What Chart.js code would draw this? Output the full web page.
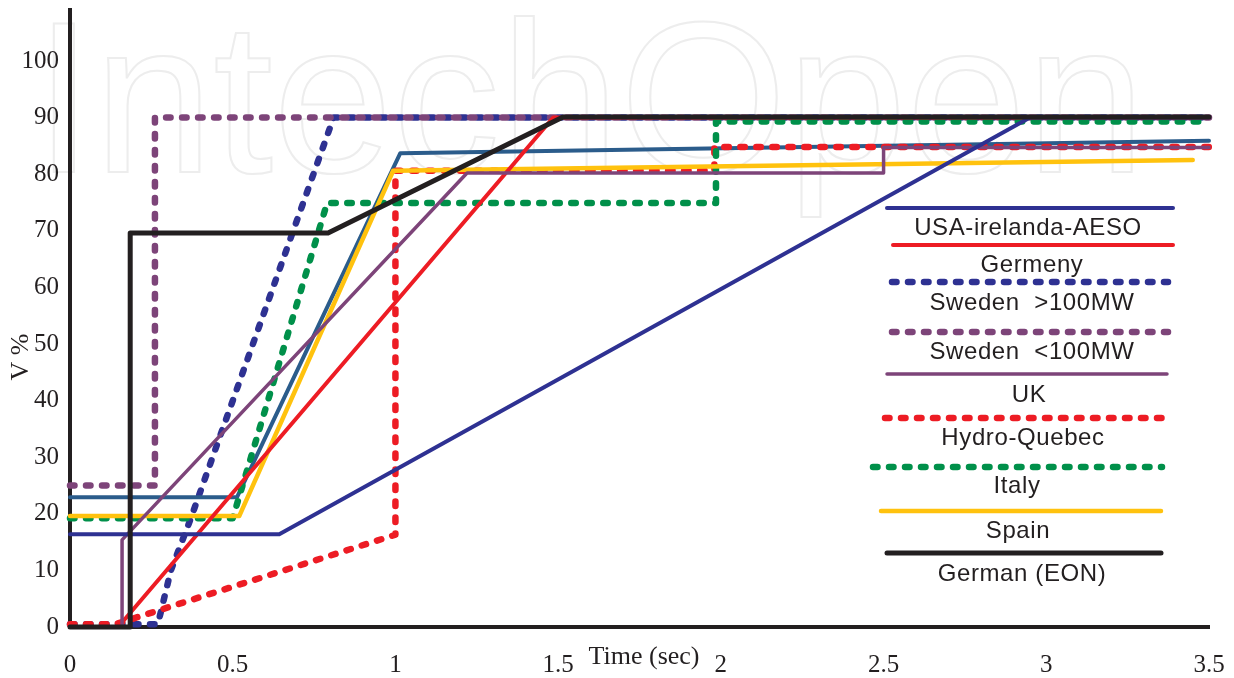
<!DOCTYPE html>
<html>
<head>
<meta charset="utf-8">
<title>V % - Time (sec)</title>
<script src="https://cdn.jsdelivr.net/npm/chart.js@4.4.1/dist/chart.umd.min.js"></script>
<style>
    body { margin: 0; background: #ffffff; }
    #box { width: 1234px; height: 678px; position: relative; }
</style>
</head>
<body>
<div id="box"><canvas id="myChart"></canvas></div>
<script>
"use strict";

// DATI
const xTicks = [0, 0.5, 1, 1.5, 2, 2.5, 3, 3.5];
const yTicks = [0, 10, 20, 30, 40, 50, 60, 70, 80, 90, 100];

const usaT = [0, 0.643, 2.95, 3.5];
const usaV = [16.4, 16.4, 90, 90];

const germenyT = [0, 0.148, 1.485, 3.5];
const germenyV = [0, 0, 90, 90];

const swedenHiT = [0, 0.27, 0.31, 0.37, 0.81, 3.5];
const swedenHiV = [0.5, 0.5, 10, 19, 90, 90];

const swedenLoT = [0, 0.261, 0.261, 3.5];
const swedenLoV = [25, 25, 90, 90];

const ukT = [0, 0.16, 0.16, 1.22, 2.5, 2.5, 3.5];
const ukV = [0, 0, 15.4, 80.2, 80.2, 84.7, 84.7];

const hydroT = [0, 0.14, 1.0, 1.0, 1.98, 1.98, 3.5];
const hydroV = [0.5, 0.5, 16.3, 80.6, 80.6, 84.8, 84.8];

const italyT = [0, 0.5, 0.79, 1.985, 1.985, 3.5];
const italyV = [19.2, 19.2, 74.9, 74.9, 89.3, 89.3];

const spainT = [0, 0.52, 0.993, 3.45];
const spainV = [19.6, 19.6, 80.6, 82.5];

const eonT = [0, 0.185, 0.185, 0.793, 1.515, 3.5];
const eonV = [0, 0, 69.6, 69.6, 90.1, 90.1];

// linea senza voce in legenda
const extraT = [0, 0.513, 1.015, 3.5];
const extraV = [22.9, 22.9, 83.7, 85.9];

const labels = ["USA-irelanda-AESO", "Germeny", "Sweden  >100MW", "Sweden  <100MW", "UK",
    "Hydro-Quebec", "Italy", "Spain", "German (EON)"];

const dots = [4.5, 11.5];

function points(t, v) {
    let out = [];
    for (let i = 0; i < t.length; i++)
        out.push({x: t[i], y: v[i]});
    return out;
}

function serie(label, t, v, color, width, dash, order) {
    return {
        label: label,
        data: points(t, v),
        borderColor: color,
        backgroundColor: color,
        borderWidth: width,
        borderDash: dash,
        borderCapStyle: "round",
        borderJoinStyle: "round",
        pointRadius: 0,
        tension: 0,
        fill: false,
        clip: false,
        order: order
    };
}

let datasets = [
    serie(labels[0], usaT, usaV, "#2E3192", 4, [], 1),
    serie(labels[1], germenyT, germenyV, "#ED1C24", 4, [], 3),
    serie(labels[2], swedenHiT, swedenHiV, "#2E3192", 6.5, dots, 9),
    serie(labels[3], swedenLoT, swedenLoV, "#7D4479", 6.5, dots, 8),
    serie(labels[4], ukT, ukV, "#7D4479", 3.5, [], 2),
    serie(labels[5], hydroT, hydroV, "#ED1C24", 6.5, dots, 6),
    serie(labels[6], italyT, italyV, "#00904A", 6.5, dots, 5),
    serie(labels[7], spainT, spainV, "#FFC20E", 4.5, [], 4),
    serie(labels[8], eonT, eonV, "#231F20", 5, [], 0),
    serie("", extraT, extraV, "#2B5C8B", 4, [], 7)
];

// LEGENDA DISEGNATA A MANO (linea sopra, testo sotto)
const legendRows = [
    {y: 208, x0: 887, x1: 1173, ty: 235, tx: 1028},
    {y: 245, x0: 893, x1: 1173, ty: 272, tx: 1032},
    {y: 282, x0: 892, x1: 1168, ty: 310, tx: 1032},
    {y: 332, x0: 892, x1: 1168, ty: 359, tx: 1032},
    {y: 374, x0: 887, x1: 1167, ty: 402, tx: 1029},
    {y: 418, x0: 885, x1: 1163, ty: 445, tx: 1023},
    {y: 467, x0: 873, x1: 1162, ty: 493, tx: 1017},
    {y: 511, x0: 881, x1: 1161, ty: 538, tx: 1018},
    {y: 553, x0: 887, x1: 1161, ty: 581, tx: 1022}
];

const watermark = {
    id: "watermark",
    beforeDraw(chart) {
        let ctx = chart.ctx;
        ctx.save();
        ctx.font = '215px "Liberation Sans"';
        ctx.strokeStyle = "#ededed";
        ctx.lineWidth = 2;
        ctx.textBaseline = "alphabetic";
        ctx.strokeText("IntechOpen", 34, 172);
        ctx.restore();
    }
};

const extras = {
    id: "extras",
    afterDraw(chart) {
        let ctx = chart.ctx;
        ctx.save();
        ctx.fillStyle = "#231F20";
        ctx.font = '26px "Liberation Serif"';
        ctx.textAlign = "center";
        ctx.textBaseline = "alphabetic";
        ctx.fillText("Time (sec)", 644, 664);

        ctx.translate(21, 357);
        ctx.rotate(-Math.PI / 2);
        ctx.textBaseline = "middle";
        ctx.fillText("V %", 0, 0);
        ctx.restore();

        ctx.save();
        for (let i = 0; i < legendRows.length; i++) {
            let r = legendRows[i];
            let ds = chart.data.datasets[i];
            ctx.beginPath();
            ctx.strokeStyle = ds.borderColor;
            ctx.lineWidth = ds.borderWidth;
            ctx.lineCap = "round";
            ctx.setLineDash(ds.borderDash);
            ctx.moveTo(r.x0, r.y);
            ctx.lineTo(r.x1, r.y);
            ctx.stroke();
            ctx.setLineDash([]);
            ctx.fillStyle = "#231F20";
            ctx.font = '24px "Liberation Sans"';
            ctx.letterSpacing = "0.6px";
            ctx.textAlign = "center";
            ctx.fillText(ds.label, r.tx, r.ty);
        }
        ctx.restore();
    }
};

new Chart(document.getElementById("myChart"), {
    type: "line",
    data: { datasets: datasets },
    options: {
        responsive: true,
        maintainAspectRatio: false,
        animation: false,
        layout: { padding: { left: 0, right: 25, top: 10, bottom: 0 } },
        plugins: {
            legend: { display: false },
            tooltip: { enabled: false }
        },
        scales: {
            x: {
                type: "linear",
                min: 0,
                max: 3.5,
                afterFit: function (s) {
                    s.height = 51;
                    s.paddingLeft = 0;
                    s.paddingRight = 0;
                },
                afterBuildTicks: function (s) { s.ticks = xTicks.map(v => ({value: v})); },
                grid: { display: false, drawTicks: false },
                border: { color: "#231F20", width: 4 },
                ticks: {
                    color: "#231F20",
                    padding: 23,
                    font: { family: "Liberation Serif", size: 25 },
                    callback: v => String(v)
                }
            },
            y: {
                type: "linear",
                min: 0,
                max: 109,
                afterFit: function (s) {
                    s.width = 70;
                    s.paddingTop = 0;
                    s.paddingBottom = 0;
                },
                afterBuildTicks: function (s) { s.ticks = yTicks.map(v => ({value: v})); },
                grid: { display: false, drawTicks: false },
                border: { color: "#231F20", width: 4 },
                ticks: {
                    color: "#231F20",
                    padding: 11,
                    font: { family: "Liberation Serif", size: 25 },
                    callback: v => String(v)
                }
            }
        }
    },
    plugins: [watermark, extras]
});
</script>
</body>
</html>
